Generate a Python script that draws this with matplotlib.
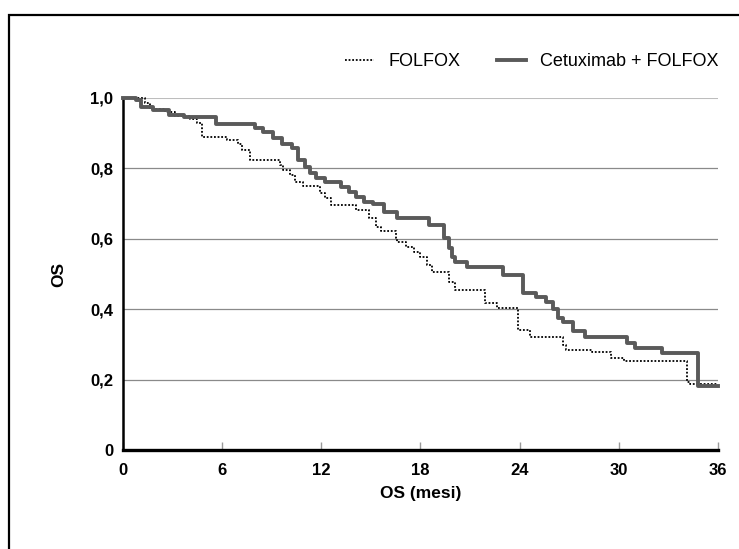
import matplotlib.pyplot as plt
import matplotlib.patches as patches

# Kaplan-Meier steps (months, survival)
cetux_t = [0, 0.8, 1.1, 1.8, 2.8, 3.7, 5.6, 8.0, 8.5, 9.1, 9.6, 10.2, 10.6, 11.0, 11.3, 11.7,
           12.2, 13.2, 13.7, 14.1, 14.6, 15.1, 15.8, 16.6, 18.5, 19.4, 19.7, 19.9, 20.1, 20.8,
           23.0, 24.2, 25.0, 25.6, 26.0, 26.3, 26.6, 27.2, 27.95, 30.5, 31.0, 32.6, 34.8, 36]
cetux_s = [1.0, 0.995, 0.975, 0.965, 0.953, 0.945, 0.926, 0.916, 0.904, 0.885, 0.87, 0.857,
           0.824, 0.805, 0.786, 0.772, 0.76, 0.748, 0.734, 0.72, 0.705, 0.70, 0.677, 0.658,
           0.639, 0.601, 0.573, 0.549, 0.535, 0.521, 0.497, 0.446, 0.435, 0.42, 0.40, 0.375,
           0.365, 0.339, 0.322, 0.304, 0.29, 0.275, 0.183, 0.183]

folfox_t = [0, 1.33, 1.63, 2.54, 3.15, 4.05, 4.46, 4.76, 6.27, 6.96, 7.18, 7.68, 9.5, 9.7,
            10.1, 10.4, 10.9, 11.9, 12.2, 12.6, 14.1, 14.9, 15.3, 15.6, 16.5, 16.6, 17.1,
            17.6, 18.0, 18.4, 18.7, 19.7, 20.1, 21.9, 22.6, 23.9, 24.6, 26.6, 26.8, 28.4,
            29.5, 30.3, 34.1, 34.3, 36]
folfox_s = [1.0, 0.986, 0.968, 0.959, 0.95, 0.94, 0.93, 0.89, 0.88, 0.87, 0.852, 0.824,
            0.81, 0.795, 0.78, 0.762, 0.75, 0.729, 0.715, 0.696, 0.682, 0.658, 0.634, 0.623,
            0.601, 0.592, 0.578, 0.563, 0.549, 0.526, 0.505, 0.478, 0.455, 0.417, 0.403,
            0.34, 0.32, 0.298, 0.285, 0.279, 0.26, 0.253, 0.194, 0.187, 0.187]

x_ticks = [0, 6, 12, 18, 24, 30, 36]
y_ticks = [0, 0.2, 0.4, 0.6, 0.8, 1.0]
y_labels = ['0', '0,2', '0,4', '0,6', '0,8', '1,0']

plt.rcParams['font.family'] = ['Liberation Sans', 'DejaVu Sans']

fig = plt.figure(figsize=(7.39, 5.49), dpi=100)
ax = fig.add_axes([0.1664, 0.1803, 0.8052, 0.6412])

# outer frame of the picture
fig.patches.append(patches.Rectangle((9 / 739, -0.1), 1.2, 0.1 + (1 - 15 / 549),
                                     transform=fig.transFigure, fill=False,
                                     edgecolor='black', linewidth=1.6))

ax.step(folfox_t, folfox_s, where='post', color='black', linestyle=(0, (1, 1)),
        linewidth=1.3, label='FOLFOX', clip_on=False, zorder=3)
ax.step(cetux_t, cetux_s, where='post', color='#5a5a5a', linewidth=2.8,
        label='Cetuximab + FOLFOX', clip_on=False, zorder=4)

ax.set_xlim(0, 36)
ax.set_ylim(0, 1.0)
ax.set_xticks(x_ticks)
ax.set_yticks(y_ticks)
ax.set_yticklabels(y_labels)

ax.grid(axis='y', color='#8a8a8a', linewidth=0.9)
ax.yaxis.get_gridlines()[-1].set_color('#bdbdbd')
ax.yaxis.get_gridlines()[-1].set_linewidth(1.5)
ax.set_axisbelow(True)

for side in ['top', 'right']:
    ax.spines[side].set_visible(False)
ax.spines['left'].set_linewidth(1.8)
ax.spines['bottom'].set_linewidth(2.4)

ax.tick_params(axis='x', direction='in', length=6, width=1, color='#9a9a9a', pad=9,
               labelsize=12)
ax.tick_params(axis='y', length=0, pad=7, labelsize=12)
for lab in ax.get_xticklabels() + ax.get_yticklabels():
    lab.set_fontweight('bold')

ax.set_xlabel('OS (mesi)', fontsize=12.5, fontweight='bold', labelpad=6)
ax.set_ylabel('OS', fontsize=12.5, fontweight='bold', labelpad=17)

fig.legend(loc='center right', bbox_to_anchor=(735 / 739, 1 - 62 / 549), ncol=2,
           frameon=False, fontsize=13, handlelength=1.6, columnspacing=2.0,
           handletextpad=0.8)

fig.savefig('out.png', dpi=100)
